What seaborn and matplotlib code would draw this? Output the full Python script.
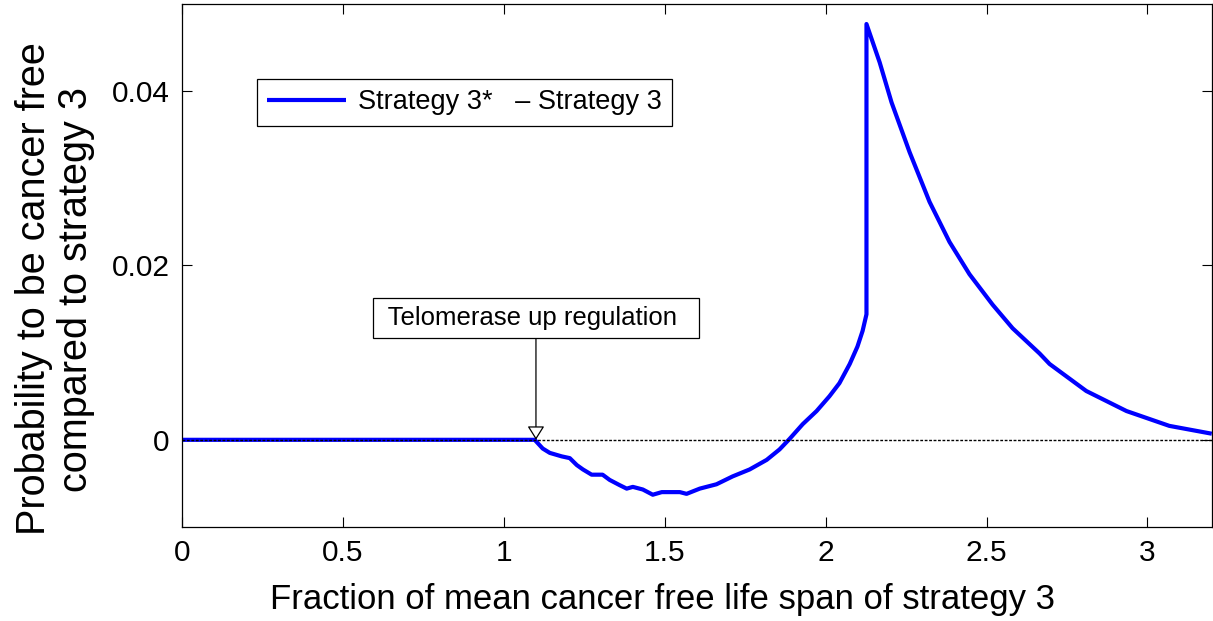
import numpy as np
import pandas as pd
import matplotlib
matplotlib.use("Agg")
import matplotlib.pyplot as plt
import seaborn as sns

# fraction of mean cancer free life span (x) and probability difference (y)
life_fraction = [0.0, 1.096, 1.121, 1.143, 1.180, 1.205, 1.227, 1.246, 1.273, 1.307,
                 1.329, 1.360, 1.382, 1.401, 1.432, 1.463, 1.491, 1.547, 1.568, 1.609,
                 1.661, 1.711, 1.764, 1.817, 1.857, 1.888, 1.929, 1.972, 2.012, 2.043,
                 2.075, 2.099, 2.115, 2.127, 2.127, 2.168, 2.205, 2.261, 2.323, 2.385,
                 2.447, 2.519, 2.581, 2.665, 2.696, 2.810, 2.935, 3.068, 3.200]
prob_diff = [0.0, 0.0, -0.0010, -0.0015, -0.0019, -0.0021, -0.0029, -0.0034, -0.0040, -0.0040,
             -0.0046, -0.0052, -0.0056, -0.0054, -0.0057, -0.0063, -0.0060, -0.0060, -0.0062, -0.0056,
             -0.0051, -0.0042, -0.0034, -0.0023, -0.0011, 0.0001, 0.0018, 0.0033, 0.0050, 0.0065,
             0.0087, 0.0107, 0.0125, 0.0144, 0.0477, 0.0433, 0.0387, 0.0330, 0.0273, 0.0227,
             0.0190, 0.0155, 0.0128, 0.0099, 0.0087, 0.0056, 0.0033, 0.0016, 0.0007]

x_ticks = [0, 0.5, 1, 1.5, 2, 2.5, 3]
x_tick_labels = ["0", "0.5", "1", "1.5", "2", "2.5", "3"]
y_ticks = [0, 0.02, 0.04]
y_tick_labels = ["0", "0.02", "0.04"]

series_label = "Strategy 3*   \u2013 Strategy 3"
annot_text = " Telomerase up regulation  "
annot_x = 1.1

df = pd.DataFrame({"fraction": life_fraction, "diff": prob_diff})

sns.set_style("ticks")
plt.rcParams["font.family"] = ["Liberation Sans", "DejaVu Sans"]
plt.rcParams.update({"text.color": "black", "axes.labelcolor": "black",
                     "xtick.color": "black", "ytick.color": "black",
                     "axes.edgecolor": "black"})

fig = plt.figure(figsize=(12.13, 6.21), dpi=100)
ax = fig.add_axes([0.150, 0.1514, 0.849, 0.8422])

sns.lineplot(data=df, x="fraction", y="diff", ax=ax, color="#0000ff", lw=3,
             estimator=None, sort=False, label=series_label,
             solid_joinstyle="round", solid_capstyle="butt")

# zero reference line drawn on top of the curve
ax.axhline(0, color="black", lw=1.0, ls=(0, (2.0, 1.2)), zorder=5)

ax.set_xlim(0, 3.2)
ax.set_ylim(-0.01, 0.05)
ax.set_xticks(x_ticks)
ax.set_xticklabels(x_tick_labels)
ax.set_yticks(y_ticks)
ax.set_yticklabels(y_tick_labels)
ax.tick_params(direction="in", top=True, right=True, length=7, width=0.8,
               labelsize=21.5, pad=9, colors="black")
for sp in ax.spines.values():
    sp.set_visible(True)
    sp.set_linewidth(0.9)
    sp.set_color("black")

ax.set_xlabel("Fraction of mean cancer free life span of strategy 3", fontsize=25)
ax.xaxis.set_label_coords(0.467, -0.107)
ax.set_ylabel("Probability to be cancer free\ncompared to strategy 3", fontsize=28.5,
              linespacing=1.15)
ax.yaxis.set_label_coords(-0.084, 0.455)

leg = ax.legend(loc="upper left", bbox_to_anchor=(0.0728, 0.8566), borderaxespad=0,
                fontsize=19.5, handlelength=2.9, handletextpad=0.45, borderpad=0.38,
                fancybox=False, framealpha=1, edgecolor="black")
leg.get_frame().set_linewidth(0.9)

ax.annotate(annot_text, xy=(annot_x, 0), xytext=(annot_x, 0.01398),
            textcoords="data", ha="center", va="center", fontsize=18.5,
            bbox=dict(boxstyle="square,pad=0.3", fc="white", ec="black", lw=0.9),
            arrowprops=dict(arrowstyle="-|>,head_length=0.4,head_width=0.25",
                            fc="white", ec="black", lw=0.9, shrinkA=0, shrinkB=0,
                            mutation_scale=21),
            zorder=6)

fig.savefig("out.png", dpi=100)
